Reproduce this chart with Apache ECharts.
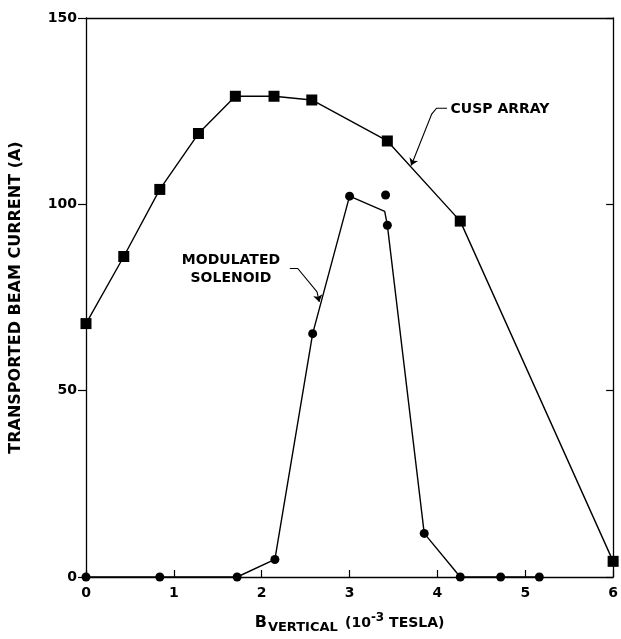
<!DOCTYPE html>
<html>
<head>
<meta charset="utf-8">
<script src="https://cdn.jsdelivr.net/npm/echarts@6/dist/echarts.min.js"></script>
<style>html,body{margin:0;padding:0;background:#fff}#c{width:621px;height:639px}</style>
</head>
<body>
<div id="c"></div>
<script>
// ---- data ----
const cuspX = [0, 0.43, 0.84, 1.28, 1.70, 2.14, 2.57, 3.43, 4.26, 6.0];
const cuspY = [68, 86, 104, 119, 129, 129, 128, 117, 95.5, 4.2];
const solX = [0, 0.84, 1.72, 2.15, 2.58, 3.0, 3.40, 3.43, 3.85, 4.26, 4.72, 5.16];
const solY = [0, 0, 0, 4.7, 65.3, 102.2, 98.1, 94.4, 11.7, 0, 0, 0];
const solMarked = [true, true, true, true, true, true, false, true, true, true, true, true];
const loneX = [3.41];
const loneY = [102.5];
const xTicks = [0, 1, 2, 3, 4, 5, 6];
const yTicks = [0, 50, 100, 150];
// annotation anchors (data coordinates)
const cuspLabelAt = [4.15, 125.5];
const cuspLeader = [[4.11, 125.8], [3.99, 125.8], [3.935, 124.2], [3.72, 111.5]];
const cuspArrowEnd = [3.70, 110.4];
const solLabelAt = [1.65, 82.5];
const solLeader = [[2.32, 82.8], [2.41, 82.8], [2.63, 76.5]];
const solArrowEnd = [2.655, 73.8];

const FONT = 'DejaVu Sans';
const chart = echarts.init(document.getElementById('c'), null, {renderer: 'canvas'});

const cuspData = cuspX.map((x, i) => [x, cuspY[i]]);
const solData = solX.map((x, i) => solMarked[i] ? [x, solY[i]] : {value: [x, solY[i]], symbolSize: 0});
const loneData = loneX.map((x, i) => [x, loneY[i]]);

function lastSeg(pts, end) { return [pts[pts.length - 1], end]; }

chart.setOption({
  animation: false,
  backgroundColor: '#fff',
  grid: {left: 81, right: 4, top: 18, bottom: 52, show: false},
  xAxis: [{
    type: 'value', min: xTicks[0], max: xTicks[xTicks.length - 1], interval: 1,
    axisLine: {show: true, onZero: false, lineStyle: {color: '#000', width: 1.3}},
    axisTick: {show: true, inside: true, length: 7, lineStyle: {color: '#000', width: 1.2}},
    axisLabel: {margin: 9, color: '#000', fontFamily: FONT, fontWeight: 'bold', fontSize: 14},
    splitLine: {show: false},
    name: '{b|B}{sub|VERTICAL} {n|(10}{sup|-3}{n| TESLA)}',
    nameLocation: 'middle', nameGap: 35,
    nameTextStyle: {
      color: '#000', fontFamily: FONT, fontWeight: 'bold',
      rich: {
        b: {fontFamily: FONT, fontWeight: 'bold', fontSize: 16, color: '#000', lineHeight: 22, verticalAlign: 'middle'},
        sub: {fontFamily: FONT, fontWeight: 'bold', fontSize: 13, color: '#000', lineHeight: 22, verticalAlign: 'bottom', padding: [0, 3, 0, 1]},
        n: {fontFamily: FONT, fontWeight: 'bold', fontSize: 14, color: '#000', lineHeight: 22, verticalAlign: 'middle'},
        sup: {fontFamily: FONT, fontWeight: 'bold', fontSize: 12, color: '#000', lineHeight: 22, verticalAlign: 'top'}
      }
    }
  }, {
    type: 'value', position: 'top', min: 0, max: 6, interval: 1,
    axisLine: {show: true, onZero: false, lineStyle: {color: '#000', width: 1.3}},
    axisTick: {show: false}, axisLabel: {show: false}, splitLine: {show: false}
  }],
  yAxis: [{
    type: 'value', min: yTicks[0], max: yTicks[yTicks.length - 1], interval: 50,
    axisLine: {show: true, onZero: false, lineStyle: {color: '#000', width: 1.3}},
    axisTick: {show: true, inside: false, length: 8, lineStyle: {color: '#000', width: 1.2}},
    axisLabel: {margin: 9, color: '#000', fontFamily: FONT, fontWeight: 'bold', fontSize: 14},
    splitLine: {show: false},
    name: 'TRANSPORTED BEAM CURRENT (A)',
    nameLocation: 'middle', nameGap: 62, nameRotate: 90,
    nameTextStyle: {color: '#000', fontFamily: FONT, fontWeight: 'bold', fontSize: 16}
  }, {
    type: 'value', position: 'right', min: 0, max: 150, interval: 50,
    axisLine: {show: true, onZero: false, lineStyle: {color: '#000', width: 1.3}},
    axisTick: {show: true, inside: true, length: 7, lineStyle: {color: '#000', width: 1.2}},
    axisLabel: {show: false}, splitLine: {show: false}
  }],
  series: [
    {
      name: 'CUSP ARRAY', type: 'line', data: cuspData,
      symbol: 'rect', symbolSize: 11,
      lineStyle: {color: '#000', width: 1.4},
      itemStyle: {color: '#000', opacity: 1}
    },
    {
      name: 'MODULATED SOLENOID', type: 'line', data: solData,
      symbol: 'circle', symbolSize: 9,
      lineStyle: {color: '#000', width: 1.4},
      itemStyle: {color: '#000', opacity: 1}
    },
    {
      name: 'extra', type: 'scatter', data: loneData,
      symbol: 'circle', symbolSize: 9, itemStyle: {color: '#000', opacity: 1}
    },
    {
      type: 'lines', coordinateSystem: 'cartesian2d', polyline: true,
      data: [{coords: cuspLeader}, {coords: solLeader}],
      lineStyle: {color: '#000', width: 1.1, opacity: 1}
    },
    {
      type: 'lines', coordinateSystem: 'cartesian2d',
      symbol: ['none', 'arrow'], symbolSize: 7,
      data: [{coords: lastSeg(cuspLeader, cuspArrowEnd)}, {coords: lastSeg(solLeader, solArrowEnd)}],
      lineStyle: {color: '#000', width: 1.1, opacity: 1}
    },
    {
      type: 'scatter', symbolSize: 0, silent: true,
      itemStyle: {opacity: 1},
      data: [
        {value: cuspLabelAt, label: {show: true, position: 'right', distance: 0, formatter: 'CUSP ARRAY', align: 'left'}},
        {value: solLabelAt, label: {show: true, position: 'inside', formatter: 'MODULATED\nSOLENOID', align: 'center', lineHeight: 18}}
      ],
      label: {color: '#000', opacity: 1, fontFamily: FONT, fontWeight: 'bold', fontSize: 14}
    }
  ]
});
</script>
</body>
</html>
